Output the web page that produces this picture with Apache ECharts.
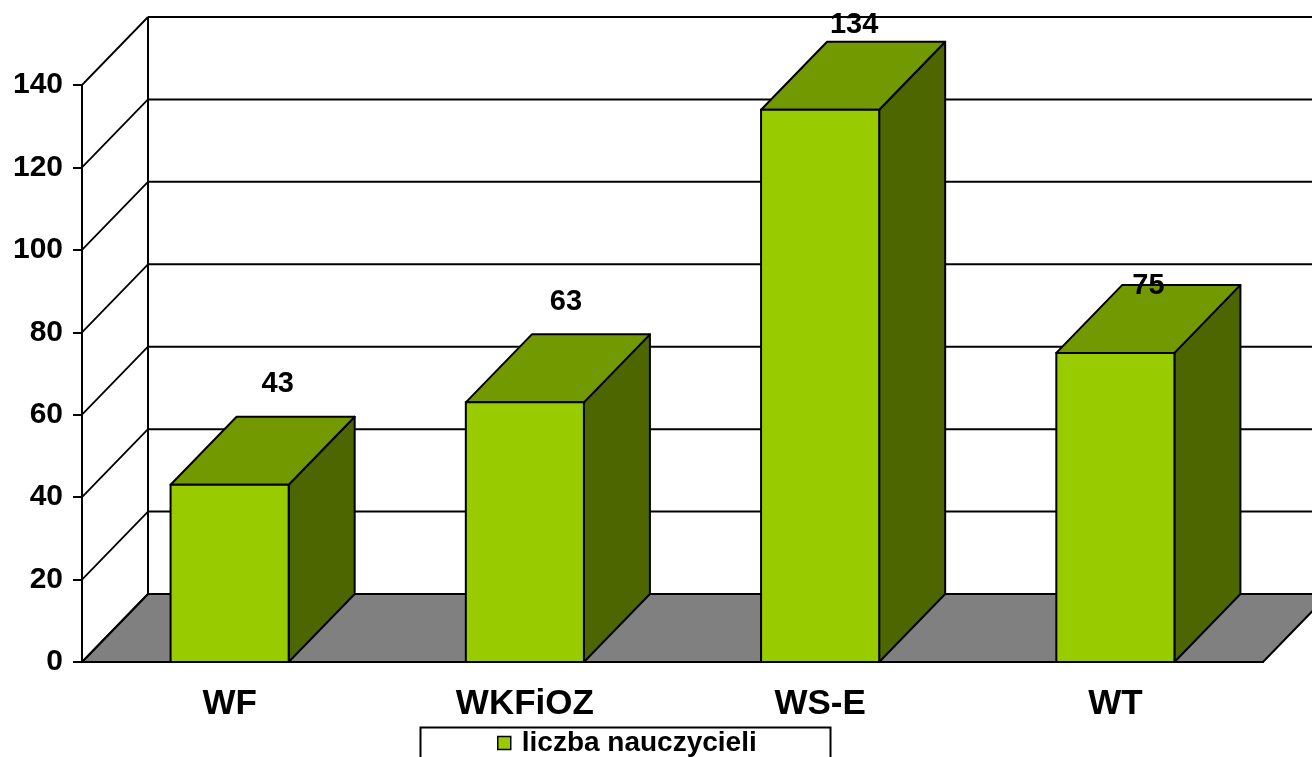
<!DOCTYPE html>
<html><head><meta charset="utf-8">
<script src="https://cdn.jsdelivr.net/npm/echarts@6/dist/echarts.min.js"></script>
<style>html,body{margin:0;padding:0;background:#fff;} #c{width:1312px;height:757px;}</style>
</head><body><div id="c"></div>
<script>
const categories = ['WF', 'WKFiOZ', 'WS-E', 'WT'];
const values = [43, 63, 134, 75];
const seriesName = 'liczba nauczycieli';
const yTicks = [0, 20, 40, 60, 80, 100, 120, 140];
// style-only nudges for the value labels (Excel places them irregularly)
const labelShift = [[15, -33], [8, -32], [1, -17], [0, 1]];

const DX = 66, DY = -68;
const FONT = "'Liberation Sans', Arial, sans-serif";
const FRONT = '#99CC00', TOP = '#739900', SIDE = '#4D6600';

const chart = echarts.init(document.getElementById('c'), null, {renderer: 'canvas'});

function frameRender(params, api) {
  const band = api.size([1, 0])[0];
  const p0 = api.coord([0, 0]);
  const left = p0[0] - band / 2;
  const right = left + band * categories.length;
  const y0 = p0[1];
  const yMax = yTicks[yTicks.length - 1];
  const yTop = api.coord([0, yMax])[1];
  const ch = [];
  ch.push({type: 'polygon', shape: {points: [[left, y0], [right, y0], [right + DX, y0 + DY], [left + DX, y0 + DY]]},
    style: {fill: '#808080', stroke: '#000', lineWidth: 2}});
  ch.push({type: 'line', shape: {x1: left + DX, y1: y0 + DY, x2: left + DX, y2: yTop + DY}, style: {stroke: '#000', lineWidth: 2}});
  yTicks.forEach(function (v) {
    const y = api.coord([0, v])[1];
    if (v > 0) ch.push({type: 'line', shape: {x1: left + DX, y1: y + DY, x2: right + DX, y2: y + DY}, style: {stroke: '#000', lineWidth: 2}});
    ch.push({type: 'line', shape: {x1: left, y1: y, x2: left + DX, y2: y + DY}, style: {stroke: '#000', lineWidth: 1.8}});
  });
  return {type: 'group', children: ch};
}

function barRender(params, api) {
  const i = api.value(0), v = api.value(1);
  const band = api.size([1, 0])[0];
  const w = band * 0.4;
  const c = api.coord([i, v]);
  const b = api.coord([i, 0]);
  const x0 = c[0] - w / 2, x1 = c[0] + w / 2, yT = c[1], yB = b[1];
  const sh = labelShift[params.dataIndex];
  return {type: 'group', children: [
    {type: 'polygon', shape: {points: [[x1, yB], [x1 + DX, yB + DY], [x1 + DX, yT + DY], [x1, yT]]},
      style: {fill: SIDE, stroke: '#000', lineWidth: 2, lineJoin: 'round'}},
    {type: 'polygon', shape: {points: [[x0, yT], [x1, yT], [x1 + DX, yT + DY], [x0 + DX, yT + DY]]},
      style: {fill: TOP, stroke: '#000', lineWidth: 2, lineJoin: 'round'}},
    {type: 'rect', shape: {x: x0, y: yT, width: w, height: yB - yT},
      style: {fill: FRONT, stroke: '#000', lineWidth: 2}},
    {type: 'text', x: c[0] + DX / 2 + sh[0], y: yT + DY + sh[1],
      style: {text: String(v), fontFamily: FONT, fontWeight: 'bold', fontSize: 29, fill: '#000', align: 'center', verticalAlign: 'middle'}}
  ]};
}

const option = {
  animation: false,
  backgroundColor: '#fff',
  grid: {left: 82, right: 49, top: 85, bottom: 95},
  xAxis: {
    type: 'category', data: categories,
    axisLine: {show: true, lineStyle: {color: '#000', width: 2}},
    axisTick: {show: false},
    axisLabel: {color: '#000', fontFamily: FONT, fontWeight: 'bold', fontSize: 35, margin: 25},
    splitLine: {show: false}
  },
  yAxis: {
    type: 'value', min: 0, max: 140, interval: 20,
    axisLine: {show: true, lineStyle: {color: '#000', width: 2}},
    axisTick: {show: true, length: 9, lineStyle: {color: '#000', width: 2}},
    axisLabel: {color: '#000', fontFamily: FONT, fontWeight: 'bold', fontSize: 30, margin: 19},
    splitLine: {show: false}
  },
  legend: {
    data: [{name: seriesName, icon: 'rect'}],
    left: 497, top: 729, padding: 0, itemGap: 0,
    itemWidth: 13, itemHeight: 13,
    itemStyle: {color: FRONT, borderColor: '#000', borderWidth: 1.5},
    textStyle: {fontFamily: FONT, fontWeight: 'bold', fontSize: 28, color: '#000', padding: [0, 0, 0, 6]}
  },
  graphic: [{type: 'rect', left: 418, top: 725, shape: {width: 410, height: 60},
    style: {fill: 'none', stroke: '#000', lineWidth: 2}, z: 0}],
  series: [
    {type: 'custom', name: 'frame', data: [[0, 0]], renderItem: frameRender, clip: false, silent: true, z: 1},
    {type: 'custom', name: seriesName, data: categories.map(function (c, i) { return [i, values[i]]; }),
      renderItem: barRender, clip: false, z: 3,
      itemStyle: {color: FRONT, borderColor: '#000', borderWidth: 1.5}}
  ]
};
chart.setOption(option);
</script>
</body></html>
